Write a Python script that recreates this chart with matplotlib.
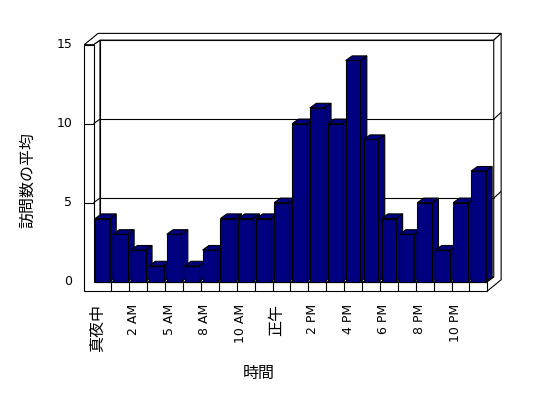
import matplotlib
matplotlib.use("Agg")
import matplotlib.pyplot as plt
from matplotlib.patches import Polygon

plt.rcParams['font.family'] = ['DejaVu Sans', 'Noto Sans CJK JP']

# average visits per hour slot
visits = [4, 3, 2, 1, 3, 1, 2, 4, 4, 4, 5, 10, 11, 10, 14, 9, 4, 3, 5, 2, 5, 7]
# labels shown on every other category
tick_labels = ['真夜中', '2 AM', '5 AM', '8 AM', '10 AM', '正午',
               '2 PM', '4 PM', '6 PM', '8 PM', '10 PM']
y_ticks = [0, 5, 10, 15]
y_label = '訪問数の平均'
x_label = '時間'

NAVY = '#000080'
LW = 0.8

# scale: 17.9 px per category, 15.8 px per unit, origin at (102.5, 281.7) px
fig = plt.figure(figsize=(5.48, 3.98), dpi=100)
ax = fig.add_axes([0, 0, 1, 1])
ax.set_xlim(-102.5 / 17.9, (548 - 102.5) / 17.9)
ax.set_ylim((281.7 - 398) / 15.8, 281.7 / 15.8)
ax.axis('off')

# oblique offsets: depth of the plot box and thickness of the walls
DX, DY = 6.4 / 17.9, 4.6 / 15.8
TX, TY = 7.4 / 17.9, 6.7 / 15.8


def P(k, v, d=0.0, t=0.0):
    return (k + d * DX + t * TX, v + d * DY + t * TY)


def face(pts, fc='white', z=1):
    ax.add_patch(Polygon(pts, closed=True, facecolor=fc, edgecolor='black',
                         linewidth=LW, zorder=z, joinstyle='miter'))


def line(p0, p1, z=1.5):
    ax.plot([p0[0], p1[0]], [p0[1], p1[1]], color='black', lw=LW, zorder=z,
            solid_capstyle='butt')


n = len(visits)
xl_out, xl_in, xr = -1.02, -0.5, n - 0.5
vb, vt = -0.59, y_ticks[-1]

# walls and floor
face([P(xl_in, 0, 1), P(xr, 0, 1), P(xr, vt, 1), P(xl_in, vt, 1)])          # back wall
face([P(xl_in, 0), P(xl_in, 0, 1), P(xl_in, vt, 1), P(xl_in, vt)])          # left wall inner
face([P(xl_in, 0), P(xr, 0), P(xr, 0, 1), P(xl_in, 0, 1)])                  # floor top
face([P(xl_out, vt), P(xl_in, vt), P(xl_in, vt, 1), P(xr, vt, 1),
      P(xr, vt, 1, 1), P(xl_out, vt, 1, 1)])                                 # top edges
face([P(xr, vb), P(xr, vb, 1, 1), P(xr, vt, 1, 1), P(xr, vt, 1),
      P(xr, 0, 1), P(xr, 0)])                                                # right side
face([P(xl_out, vb), P(xr, vb), P(xr, 0), P(xl_in, 0), P(xl_in, vt),
      P(xl_out, vt)])                                                        # front L

# gridlines
for v in y_ticks[1:-1]:
    line(P(xl_in, v), P(xl_in, v, 1))
    line(P(xl_in, v, 1), P(xr, v, 1))
    line(P(xr, v, 1), P(xr, v, 1, 1))
    line(P(xl_out, v), P(xl_in, v))

# category dividers on floor front
for i in range(n - 1):
    line(P(i + 0.5, vb), P(i + 0.5, 0))

# bars
w = 0.82
xs = list(range(n))
ax.bar(xs, visits, width=w, bottom=0, color=NAVY, edgecolor='black',
       linewidth=LW, zorder=3)
for i, h in enumerate(visits):
    x0, x1 = i - w / 2, i + w / 2
    face([P(x1, 0), P(x1, 0, 1), P(x1, h, 1), P(x1, h)], NAVY, z=2)
    face([P(x0, h), P(x1, h), P(x1, h, 1), P(x0, h, 1)], NAVY, z=2)

# tick labels
for v in y_ticks:
    ax.text(-1.687, v, str(v), ha='right', va='center', fontsize=9)

for j, lab in enumerate(tick_labels):
    fs = 9 if lab.isascii() else 11.5
    ax.text(2 * j - 0.28, -1.38, lab, rotation=90, ha='center', va='top',
            fontsize=fs)

ax.text(-4.19, 6.44, y_label, rotation=90, ha='center', va='center',
        fontsize=11.5)
ax.text(8.74, -5.84, x_label, ha='center', va='center', fontsize=11.5)

fig.savefig('out.png', dpi=100)
